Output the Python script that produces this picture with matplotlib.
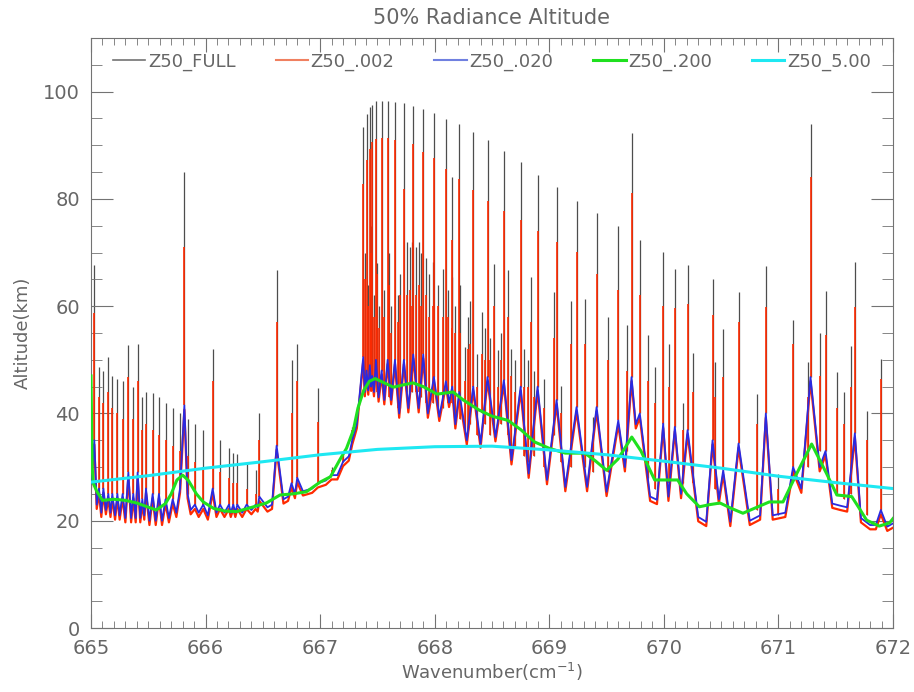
import numpy as np
import matplotlib
matplotlib.use('Agg')
import matplotlib.pyplot as plt
from matplotlib.lines import Line2D
from matplotlib.ticker import MultipleLocator

# main lines: position, Z50_FULL peak, Z50_.002 peak, Z50_.020 peak
line_wn = [665.029, 665.070, 665.108, 665.151, 665.186, 665.230, 665.276, 665.326,
           665.369, 665.407, 665.448, 665.480, 665.538, 665.593, 665.651, 665.713,
           665.777, 665.815, 665.843, 665.907, 665.980, 666.062, 666.126, 666.204,
           666.242, 666.277, 666.358, 666.437, 666.469, 666.620, 666.750, 666.800,
           666.980, 667.100, 667.200, 667.280,
           667.376, 667.405, 667.434, 667.455, 667.487, 667.537, 667.589, 667.653,
           667.731, 667.813, 667.900, 667.993, 668.098, 668.153, 668.214, 668.336,
           668.461, 668.604, 668.750, 668.898, 669.064, 669.238, 669.413, 669.602,
           669.718, 669.790, 669.994, 670.096, 670.207, 670.425, 670.518, 670.652,
           670.890, 671.128, 671.280, 671.411, 671.667, 671.894]
full_pk = [67.6, 48.7, 48.0, 50.5, 47.0, 46.5, 46.0, 52.7,
           45.0, 53.0, 43.0, 44.0, 43.8, 43.0, 42.0, 41.0,
           40.0, 85.0, 39.0, 38.0, 37.0, 52.0, 35.0, 33.5,
           32.6, 32.4, 31.0, 29.5, 40.0, 66.7, 49.9, 53.0,
           44.7, 30.0, 32.5, 37.5,
           93.4, 95.8, 97.1, 97.6, 98.2, 98.3, 98.3, 98.0,
           97.8, 97.4, 96.8, 96.0, 94.9, 84.0, 94.0, 92.4,
           90.9, 89.0, 86.8, 84.5, 82.2, 79.7, 77.3, 74.9,
           92.3, 72.4, 70.1, 67.0, 67.6, 65.1, 55.8, 62.6,
           67.4, 57.5, 94.0, 62.9, 68.2, 50.2]
r002_pk = [58.7, 43.0, 42.0, 44.0, 41.0, 40.0, 39.0, 46.8,
           39.0, 46.0, 37.0, 38.0, 37.0, 36.0, 35.0, 34.0,
           33.0, 71.0, 32.0, 31.0, 30.0, 46.0, 29.0, 28.0,
           27.0, 27.0, 26.0, 25.0, 35.0, 57.0, 40.0, 46.0,
           38.4, 29.5, 32.0, 37.0,
           82.8, 87.2, 89.3, 90.6, 91.2, 91.4, 91.4, 90.9,
           81.9, 90.2, 88.7, 87.6, 85.6, 72.3, 83.7, 81.6,
           79.7, 77.8, 76.0, 74.1, 71.9, 70.1, 66.0, 63.0,
           81.1, 62.0, 60.0, 59.7, 60.5, 58.3, 46.8, 57.1,
           59.8, 53.0, 84.0, 54.6, 59.8, 46.5]
r020_pk = [35.0, 26.0, 26.0, 25.0, 25.0, 25.0, 25.0, 29.0,
           25.0, 29.0, 24.0, 26.0, 25.0, 25.0, 24.0, 24.0,
           26.0, 41.5, 25.0, 23.0, 23.0, 26.0, 23.0, 23.0,
           23.0, 23.0, 23.0, 23.0, 24.5, 34.0, 27.0, 28.0,
           27.0, 28.5, 31.0, 35.0,
           50.5, 48.0, 49.0, 47.0, 50.0, 48.0, 50.0, 50.0,
           50.0, 51.0, 51.0, 46.8, 46.0, 45.0, 44.0, 45.0,
           46.8, 46.2, 45.0, 45.0, 42.5, 41.2, 41.2, 38.7,
           46.8, 40.0, 38.1, 37.5, 36.9, 35.0, 29.4, 34.4,
           40.0, 30.0, 46.8, 33.0, 36.3, 22.0]

# weaker lines: position, FULL peak, .002 peak, foot of the line
sec_wn = [667.390, 667.420, 667.445, 667.470, 667.500, 667.510, 667.560, 667.600,
          667.620, 667.680, 667.700, 667.760, 667.780, 667.800, 667.840, 667.860,
          667.880, 667.920, 667.950, 667.987, 668.030, 668.075, 668.120, 668.147,
          668.180, 668.220, 668.264, 668.290, 668.310, 668.370, 668.410, 668.440,
          668.480, 668.517, 668.555, 668.580, 668.636, 668.670, 668.700, 668.778,
          668.810, 668.840, 668.870, 668.953, 669.040, 669.100, 669.188, 669.310,
          669.380, 669.510, 669.680, 669.858, 669.920, 670.046, 670.170, 670.250,
          670.450, 670.810, 671.000, 671.260, 671.360, 671.510, 671.570, 671.630,
          671.770]
sec_full = [70.0, 64.0, 75.0, 62.0, 68.0, 60.0, 63.0, 70.0,
            60.0, 62.0, 66.0, 72.0, 71.0, 72.0, 71.0, 72.0,
            70.0, 69.0, 66.0, 68.2, 64.0, 67.0, 63.0, 65.4,
            60.0, 64.0, 52.4, 58.0, 61.0, 51.0, 58.9, 56.0,
            54.0, 67.9, 51.8, 55.0, 66.7, 52.0, 49.9, 52.0,
            50.0, 65.4, 48.0, 46.5, 62.6, 45.2, 61.0, 61.4,
            39.3, 58.0, 56.4, 54.6, 48.7, 53.0, 41.9, 51.2,
            49.6, 43.6, 28.8, 49.6, 55.0, 47.7, 44.0, 52.5,
            40.5]
sec_r002 = [65.0, 60.0, 70.0, 58.0, 66.0, 56.0, 58.0, 64.0,
            55.0, 57.0, 62.0, 62.0, 63.0, 60.0, 62.0, 64.0,
            60.0, 62.0, 58.0, 60.0, 60.0, 58.0, 58.0, 56.0,
            55.0, 55.0, 46.0, 52.0, 53.0, 45.0, 51.0, 50.0,
            50.0, 60.0, 45.0, 50.0, 58.0, 47.0, 44.0, 45.0,
            45.0, 57.0, 43.0, 41.0, 54.0, 40.0, 53.0, 53.0,
            35.0, 50.0, 48.0, 46.0, 42.0, 45.0, 37.0, 44.0,
            43.0, 38.0, 26.0, 43.0, 47.0, 41.0, 38.0, 45.0,
            35.0]
sec_base = [45.0, 45.0, 45.0, 44.0, 44.0, 44.0, 43.0, 43.0,
            43.0, 41.0, 41.0, 44.0, 44.0, 44.0, 44.0, 44.0,
            43.0, 42.0, 41.0, 42.0, 40.0, 41.0, 42.0, 42.0,
            39.0, 39.0, 37.0, 37.0, 38.0, 36.0, 40.0, 38.0,
            36.0, 37.0, 38.0, 38.0, 36.0, 33.0, 34.0, 32.0,
            31.0, 33.0, 32.0, 30.0, 36.0, 31.0, 30.0, 30.0,
            29.0, 29.0, 33.0, 28.0, 26.0, 27.0, 27.0, 27.0,
            26.0, 22.0, 21.0, 30.0, 33.0, 25.0, 24.0, 25.0,
            21.0]

# troughs of the Z50_.020 curve between lines
trough_wn = [665.000, 665.050, 665.090, 665.130, 665.170, 665.210, 665.250, 665.300,
             665.350, 665.390, 665.430, 665.465, 665.510, 665.565, 665.620, 665.680,
             665.745, 665.870, 665.940, 666.020, 666.095, 666.165, 666.220, 666.260,
             666.320, 666.400, 666.455, 666.540, 666.580, 666.680, 666.720, 666.780,
             666.850, 666.930, 667.050, 667.150, 667.250, 667.320, 667.390, 667.420,
             667.445, 667.470, 667.510, 667.560, 667.620, 667.690, 667.770, 667.860,
             667.940, 668.040, 668.125, 668.180, 668.280, 668.400, 668.530, 668.670,
             668.820, 668.980, 669.140, 669.330, 669.500, 669.660, 669.755, 669.880,
             669.940, 670.040, 670.150, 670.300, 670.370, 670.480, 670.580, 670.750,
             670.840, 670.950, 671.060, 671.200, 671.360, 671.470, 671.540, 671.600,
             671.720, 671.800, 671.850, 671.950, 672.000]
trough_z = [27.0, 23.0, 21.5, 22.0, 21.5, 21.0, 21.0, 20.5,
            20.5, 20.5, 20.5, 21.0, 20.0, 20.0, 20.0, 20.5,
            21.5, 22.0, 21.5, 21.0, 21.5, 21.5, 21.5, 21.5,
            21.5, 22.0, 22.5, 22.5, 23.0, 24.0, 24.5, 25.0,
            25.5, 26.0, 27.5, 28.5, 32.0, 38.0, 44.0, 44.3,
            45.0, 44.0, 43.0, 42.5, 42.5, 40.0, 41.0, 41.0,
            40.0, 39.4, 42.0, 38.0, 35.0, 34.4, 35.6, 31.3,
            28.8, 27.6, 26.3, 26.3, 25.4, 30.0, 38.0, 24.5,
            23.9, 24.5, 25.0, 20.7, 19.8, 24.0, 19.8, 20.0,
            21.0, 21.0, 21.5, 26.0, 30.0, 23.2, 22.8, 22.5,
            20.5, 19.2, 19.2, 18.9, 19.5]

# Z50_.200
green_wn = [665.000, 665.010, 665.020, 665.050, 665.100, 665.200, 665.300, 665.400,
            665.490, 665.570, 665.650, 665.700, 665.750, 665.800, 665.850, 665.920,
            665.980, 666.070, 666.170, 666.270, 666.420, 666.530, 666.650, 666.760,
            666.880, 667.000, 667.090, 667.170, 667.230, 667.290, 667.330, 667.380,
            667.430, 667.480, 667.550, 667.640, 667.720, 667.810, 667.900, 668.020,
            668.160, 668.250, 668.390, 668.500, 668.640, 668.750, 668.870, 669.000,
            669.140, 669.310, 669.400, 669.500, 669.600, 669.720, 669.800, 669.920,
            670.050, 670.120, 670.200, 670.310, 670.400, 670.490, 670.600, 670.690,
            670.800, 670.920, 671.040, 671.160, 671.290, 671.420, 671.510, 671.640,
            671.700, 671.770, 671.880, 671.970, 672.000]
green_z = [47.0, 30.0, 27.0, 25.5, 23.8, 24.0, 23.8, 23.3,
           22.6, 22.0, 23.2, 25.0, 27.6, 28.5, 27.5, 25.0,
           23.5, 22.3, 21.8, 21.7, 22.6, 23.3, 24.8, 25.0,
           25.4, 27.2, 28.2, 31.3, 33.5, 36.9, 41.0, 44.3,
           46.0, 46.5, 45.8, 44.9, 45.3, 45.7, 45.0, 43.6,
           44.0, 42.5, 40.6, 39.5, 38.7, 37.0, 34.7, 33.5,
           32.6, 32.6, 31.2, 29.4, 31.5, 35.6, 33.0, 27.6,
           27.6, 27.6, 25.0, 22.6, 23.0, 23.3, 22.2, 21.4,
           22.4, 23.5, 23.5, 28.8, 34.3, 28.8, 24.8, 24.5,
           22.5, 20.1, 19.0, 19.6, 20.4]

# Z50_5.00
cyan_wn = [665.0, 665.5, 666.0, 666.5, 667.0, 667.5, 668.0, 668.5,
           669.0, 669.5, 670.0, 670.5, 671.0, 671.5, 672.0]
cyan_z = [27.2, 28.4, 29.8, 31.0, 32.3, 33.3, 33.8, 33.9,
          33.2, 32.3, 31.1, 29.8, 28.3, 27.1, 26.0]

labels = ['Z50_FULL', 'Z50_.002', 'Z50_.020', 'Z50_.200', 'Z50_5.00']

c_full = '0.3'
c_red = '#ff2a00'
c_blue = '#2a2ae0'
c_green = '#1fe01f'
c_cyan = '#1ee8f2'
axcol = '0.45'
txtcol = '0.4'

fig = plt.figure(figsize=(9.14, 6.92), dpi=100)
ax = fig.add_axes([91 / 914, 1 - 628 / 692, (893 - 91) / 914, (628 - 38) / 692])

# Z50_.020 curve: troughs and line peaks in wavenumber order
pts = sorted(list(zip(trough_wn, trough_z)) + list(zip(line_wn, r020_pk)))
bw = [p[0] for p in pts]
bz = [p[1] for p in pts]
red_base = [z - 0.8 for z in bz]

# black (full) spikes sit underneath everything
ax.vlines(line_wn, r020_pk, full_pk, color=c_full, lw=0.9, zorder=1)
ax.vlines(sec_wn, sec_base, sec_full, color=c_full, lw=0.9, zorder=1)

# red: base follows the broad curve, spikes on top
ax.plot(bw, red_base, color=c_red, lw=1.6, zorder=2)
ax.vlines(line_wn, r020_pk, r002_pk, color=c_red, lw=1.2, zorder=2)
ax.vlines(sec_wn, sec_base, sec_r002, color=c_red, lw=1.2, zorder=2)

ax.plot(bw, bz, color=c_blue, lw=1.3, zorder=3)
ax.plot(green_wn, green_z, color=c_green, lw=2.2, zorder=4)
ax.plot(cyan_wn, cyan_z, color=c_cyan, lw=2.2, zorder=5)

ax.set_xlim(665, 672)
ax.set_ylim(0, 110)
ax.xaxis.set_major_locator(MultipleLocator(1))
ax.xaxis.set_minor_locator(MultipleLocator(0.1))
ax.yaxis.set_major_locator(MultipleLocator(20))
ax.yaxis.set_minor_locator(MultipleLocator(5))
ax.tick_params(which='both', direction='in', top=True, right=True, color=axcol,
               labelcolor=txtcol, labelsize=14)
ax.tick_params(axis='x', which='major', length=10, pad=8)
ax.tick_params(axis='x', which='minor', length=5)
ax.tick_params(axis='y', which='major', length=16, pad=8)
ax.tick_params(axis='y', which='minor', length=8)
for s in ax.spines.values():
    s.set_color(axcol)

ax.set_title('50% Radiance Altitude', fontsize=15, color=txtcol, pad=10)
ax.set_xlabel('Wavenumber(cm$^{-1}$)', fontsize=13, color=txtcol, labelpad=2)
ax.set_ylabel('Altitude(km)', fontsize=13, color=txtcol, labelpad=8)

handles = [Line2D([], [], color=c, lw=w) for c, w in
           [('0.45', 1.2), ('#f08060', 1.5), ('#7080e0', 1.5), (c_green, 2.2), (c_cyan, 2.2)]]
ax.legend(handles, labels, loc='upper center', bbox_to_anchor=(0.5, 1.0), ncol=5,
          frameon=False, fontsize=13, labelcolor=txtcol, handlelength=1.8,
          handletextpad=0.15, columnspacing=2.2, borderaxespad=0.4)

fig.savefig('out.png', dpi=100)
